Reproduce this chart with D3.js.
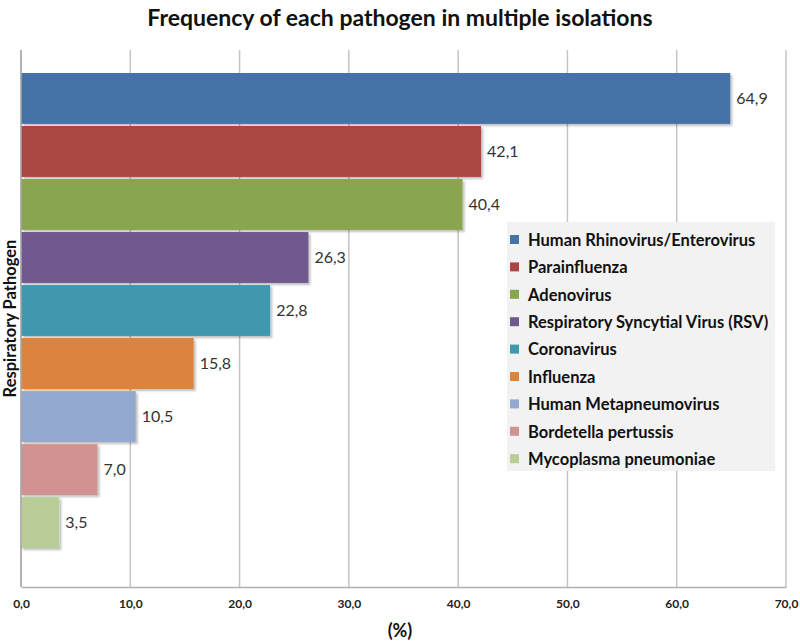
<!DOCTYPE html>
<html>
<head>
<meta charset="utf-8">
<script src="https://cdn.jsdelivr.net/npm/d3@7"></script>
<style>
  body { margin: 0; background: #fff; }
  svg { display: block; font-family: Lato, "Open Sans", sans-serif; }
</style>
</head>
<body>
<svg id="chart" width="800" height="642"></svg>
<script>
// data
const pathogens = [
  "Human Rhinovirus/Enterovirus",
  "Parainfluenza",
  "Adenovirus",
  "Respiratory Syncytial Virus (RSV)",
  "Coronavirus",
  "Influenza",
  "Human Metapneumovirus",
  "Bordetella pertussis",
  "Mycoplasma pneumoniae"
];
const frequency = [64.9, 42.1, 40.4, 26.3, 22.8, 15.8, 10.5, 7.0, 3.5];
const barColors = ["#4572A7", "#AA4643", "#89A54E", "#71588F", "#4198AF", "#DB843D", "#93A9CF", "#D19392", "#B9CD96"];
const xTicks = [0, 10, 20, 30, 40, 50, 60, 70];

const svg = d3.select("#chart");
const width = 800, height = 642;
const margin = { top: 50, right: 14, bottom: 55, left: 21 };
const plotBottom = height - margin.bottom;

const fmt = v => d3.format(".1f")(v).replace(".", ",");

const x = d3.scaleLinear().domain([0, 70]).range([margin.left, width - margin.right]);
const y = d3.scaleBand()
  .domain(pathogens)
  .range([margin.top + 23, plotBottom - 39])
  .paddingInner(0.04);

// shadow for bars
const defs = svg.append("defs");
const f = defs.append("filter").attr("id", "shadow")
  .attr("x", "-5%").attr("y", "-10%").attr("width", "115%").attr("height", "130%");
f.append("feDropShadow")
  .attr("dx", 2).attr("dy", 2).attr("stdDeviation", 1.2)
  .attr("flood-color", "#000").attr("flood-opacity", 0.25);

// title
svg.append("text")
  .attr("x", width / 2).attr("y", 26)
  .attr("text-anchor", "middle")
  .attr("font-size", 23).attr("font-weight", "bold")
  .attr("fill", "#111")
  .text("Frequency of each pathogen in multiple isolations");

// vertical gridlines
svg.append("g")
  .selectAll("line")
  .data(xTicks)
  .join("line")
  .attr("x1", d => x(d)).attr("x2", d => x(d))
  .attr("y1", margin.top).attr("y2", plotBottom)
  .attr("stroke", "#c4c4c4").attr("stroke-width", 1.5);

// x axis
const xAxis = svg.append("g")
  .attr("transform", `translate(0,${plotBottom})`)
  .call(d3.axisBottom(x).tickValues(xTicks).tickFormat(fmt).tickSize(0).tickPadding(12));
xAxis.select(".domain").attr("stroke", "#b0b0b0").attr("stroke-width", 1.5);
xAxis.selectAll("text")
  .attr("font-family", "Lato, sans-serif")
  .attr("font-size", 12).attr("font-weight", "bold").attr("fill", "#222");

// bars
svg.append("g")
  .selectAll("rect")
  .data(pathogens)
  .join("rect")
  .attr("x", x(0))
  .attr("y", d => y(d))
  .attr("width", (d, i) => x(frequency[i]) - x(0))
  .attr("height", y.bandwidth())
  .attr("fill", (d, i) => barColors[i])
  .attr("filter", "url(#shadow)");

// left axis line
svg.append("line")
  .attr("x1", x(0)).attr("x2", x(0))
  .attr("y1", margin.top).attr("y2", plotBottom)
  .attr("stroke", "#a8a8a8").attr("stroke-width", 1.5);

// value labels
svg.append("g")
  .selectAll("text")
  .data(pathogens)
  .join("text")
  .attr("x", (d, i) => x(frequency[i]) + 6)
  .attr("y", d => y(d) + y.bandwidth() / 2)
  .attr("dy", "0.35em")
  .attr("font-size", 16).attr("fill", "#333")
  .text((d, i) => fmt(frequency[i]));

// axis titles
svg.append("text")
  .attr("x", width / 2).attr("y", 637)
  .attr("text-anchor", "middle")
  .attr("font-size", 18).attr("font-weight", "bold").attr("fill", "#111")
  .text("(%)");

svg.append("text")
  .attr("transform", `translate(16,${(margin.top + plotBottom) / 2}) rotate(-90)`)
  .attr("text-anchor", "middle")
  .attr("font-size", 16.5).attr("font-weight", "bold").attr("fill", "#111")
  .text("Respiratory Pathogen");

// legend
const legend = svg.append("g").attr("transform", "translate(507,222)");
legend.append("rect")
  .attr("width", 268).attr("height", 249)
  .attr("fill", "#f2f2f2");
const item = legend.selectAll("g")
  .data(pathogens)
  .join("g")
  .attr("transform", (d, i) => `translate(0,${18 + i * 27.4})`);
item.append("rect")
  .attr("x", 3).attr("y", -5).attr("width", 9).attr("height", 9)
  .attr("fill", (d, i) => barColors[i]);
item.append("text")
  .attr("x", 21).attr("dy", "0.35em")
  .attr("font-size", 16.5).attr("font-weight", "bold").attr("fill", "#111")
  .text(d => d);
</script>
</body>
</html>
